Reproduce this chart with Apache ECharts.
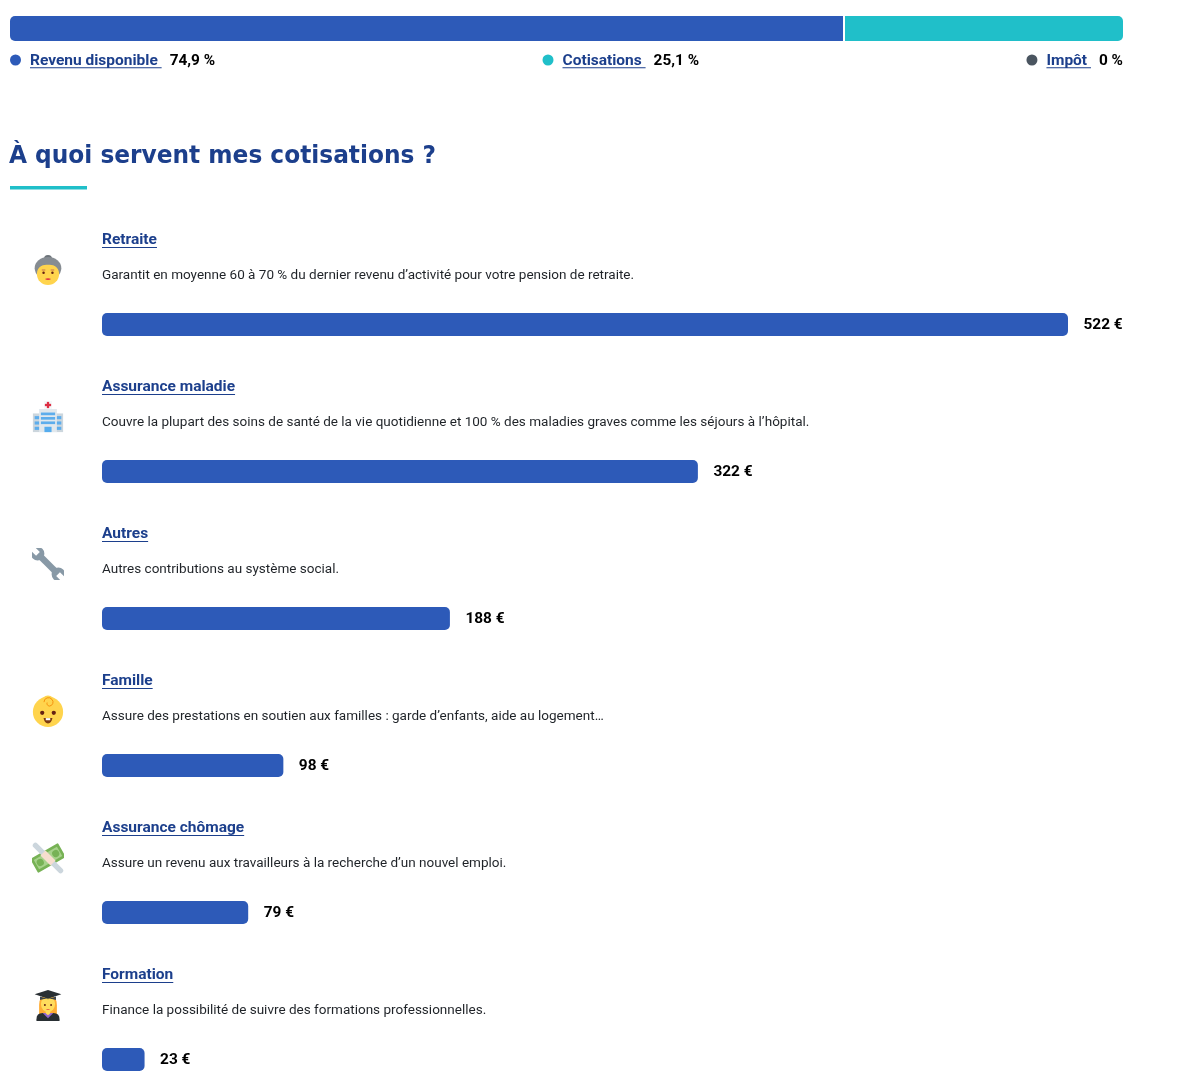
<!DOCTYPE html>
<html lang="fr">
<head>
<meta charset="utf-8">
<style>html,body{margin:0;padding:0;background:#fff}#c{width:1200px;height:1080px}</style>
<script src="https://cdn.jsdelivr.net/npm/echarts@6/dist/echarts.min.js"></script>
</head>
<body>
<div id="c"></div>
<script>
// ---- data ----
const shareNames = ['Revenu disponible', 'Cotisations', 'Impôt'];
const shareValues = [74.9, 25.1, 0];
const shareLabels = ['74,9 %', '25,1 %', '0 %'];
const pageTitle = 'À quoi servent mes cotisations ?';
const categories = ['Retraite', 'Assurance maladie', 'Autres', 'Famille', 'Assurance chômage', 'Formation'];
const amounts = [522, 322, 188, 98, 79, 23];
const descriptions = [
  'Garantit en moyenne 60 à 70 % du dernier revenu d’activité pour votre pension de retraite.',
  'Couvre la plupart des soins de santé de la vie quotidienne et 100 % des maladies graves comme les séjours à l’hôpital.',
  'Autres contributions au système social.',
  'Assure des prestations en soutien aux familles : garde d’enfants, aide au logement…',
  'Assure un revenu aux travailleurs à la recherche d’un nouvel emploi.',
  'Finance la possibilité de suivre des formations professionnelles.'
];

// ---- styles ----
const BLUE = '#2d5ab8', TEAL = '#20bfc9', SLATE = '#4a5560', NAVY = '#1c3f8c', INK = '#1f2328';
const shareColors = [BLUE, TEAL, SLATE];
const FONT_LINK = '700 15.5px Roboto', FONT_VAL = '700 15.4px Roboto', FONT_DESC = '400 13.52px Roboto', FONT_H = '700 25px "DejaVu Sans"';

const svg = s => 'data:image/svg+xml;charset=utf-8,' + encodeURIComponent(
  '<svg xmlns="http://www.w3.org/2000/svg" width="72" height="72" viewBox="0 0 36 36">' + s + '</svg>');
const icons = [
  svg('<circle cx="18" cy="5.5" r="4.5" fill="#6d747a"/><ellipse cx="18" cy="16" rx="15" ry="12.5" fill="#868c92"/>' +
      '<ellipse cx="18" cy="22.5" rx="12.5" ry="12.5" fill="#FFD44D"/><path d="M5 20C7 13 13 12 18 12s11 1 13 8c1-9-5-14-13-14S4 11 5 20z" fill="#868c92"/>' +
      '<circle cx="13" cy="21" r="1.4" fill="#662113"/><circle cx="23" cy="21" r="1.4" fill="#662113"/>' +
      '<path d="M14.5 28q3.5 2.4 7 0q-3.5-1.2-7 0z" fill="#DD2E44"/><rect x="11" y="17.5" width="4" height="1" fill="#c1694f"/><rect x="21" y="17.5" width="4" height="1" fill="#c1694f"/>'),
  svg('<rect x="1" y="14" width="34" height="21" fill="#CCD6DD"/><rect x="8" y="9" width="20" height="26" fill="#E1E8ED"/>' +
      '<rect x="13.5" y="0" width="9" height="9" fill="#F5F8FA"/><rect x="16.7" y="1" width="2.6" height="7" fill="#DD2E44"/><rect x="14.5" y="3.2" width="7" height="2.6" fill="#DD2E44"/>' +
      '<rect x="3" y="17" width="5" height="3.5" fill="#5DADEC"/><rect x="3" y="23" width="5" height="3.5" fill="#5DADEC"/><rect x="3" y="29" width="5" height="3.5" fill="#5DADEC"/>' +
      '<rect x="28" y="17" width="5" height="3.5" fill="#5DADEC"/><rect x="28" y="23" width="5" height="3.5" fill="#5DADEC"/><rect x="28" y="29" width="5" height="3.5" fill="#5DADEC"/>' +
      '<rect x="10" y="13" width="16" height="3" fill="#5DADEC"/><rect x="10" y="18" width="16" height="3" fill="#5DADEC"/><rect x="10" y="23" width="16" height="3" fill="#5DADEC"/>' +
      '<rect x="14" y="29" width="8" height="6" fill="#55ACEE"/>'),
  svg('<g transform="rotate(-45 18 18)"><rect x="14.4" y="4" width="7.2" height="28" fill="#8899A6"/>' +
      '<circle cx="18" cy="1.5" r="7.6" fill="#8899A6"/><circle cx="18" cy="34.5" r="7.6" fill="#8899A6"/>' +
      '<rect x="15" y="-7" width="6" height="9" fill="#fff"/><rect x="15" y="34" width="6" height="9" fill="#fff"/></g>'),
  svg('<circle cx="18" cy="19" r="17" fill="#FFD44D"/><circle cx="18" cy="8" r="7.5" fill="#FFD44D"/>' +
      '<path d="M13.5 8a5 5 0 0 1 9-3 4.5 4.5 0 0 1-3 7.5 3 3 0 0 1-2.5-4" fill="none" stroke="#F4900C" stroke-width="1.1"/>' +
      '<circle cx="11.5" cy="20" r="2.4" fill="#662113"/><circle cx="24.5" cy="20" r="2.4" fill="#662113"/>' +
      '<path d="M13 26h10q-1 6-5 6t-5-6z" fill="#7c3a10"/><rect x="15.5" y="26" width="5" height="2.4" fill="#fff"/>'),
  svg('<g transform="rotate(-30 18 18)"><rect x="0" y="9" width="36" height="18" rx="1" fill="#77B255"/><rect x="3" y="12" width="30" height="12" fill="#A7D28B"/>' +
      '<circle cx="8" cy="18" r="4" fill="#77B255"/><circle cx="28" cy="18" r="4" fill="#77B255"/></g>' +
      '<g transform="rotate(45 18 18)"><rect x="-5" y="15" width="46" height="6" rx="3" fill="#CCD6DD"/><rect x="10" y="14" width="16" height="8" fill="#F7DECE"/></g>'),
  svg('<path d="M8 33V18q0-11 10-11t10 11v15z" fill="#FFAC33"/><ellipse cx="18" cy="17" rx="8" ry="9" fill="#FFDC5D"/>' +
      '<path d="M5 36v-2q0-7 7-7h12q7 0 7 7v2z" fill="#292F33"/><path d="M12 27h12l-6 6z" fill="#9266CC"/>' +
      '<path d="M15.5 22h5v5.5l-2.5 2-2.5-2z" fill="#FFDC5D"/>' +
      '<path d="M18 1 33 6 18 11 3 6z" fill="#292F33"/><path d="M9 8.5v4q9-3 18 0v-4l-9 3z" fill="#3d4449"/>' +
      '<circle cx="14.5" cy="18" r="1.1" fill="#662113"/><circle cx="21.5" cy="18" r="1.1" fill="#662113"/><path d="M15.5 22.5q2.5 1.5 5 0z" fill="#DD2E44"/>')
];

const mctx = document.createElement('canvas').getContext('2d');
const textW = (t, f) => { mctx.font = f; return mctx.measureText(t).width; };

// Top legend: flex "space-between" row from x=10 to x=1123
const L = 10, R = 1123, dotD = 11, dotGap = 9, valGap = 8, legY = 60;
const itemW = shareNames.map((n, i) => dotD + dotGap + textW(n + ' ', FONT_LINK) + valGap + textW(shareLabels[i], FONT_VAL));
const gap = (R - L - itemW.reduce((a, b) => a + b, 0)) / (shareNames.length - 1);
const graphics = [];
let cx = L;
shareNames.forEach((n, i) => {
  const w = textW(n + ' ', FONT_LINK);
  const tx = cx + dotD + dotGap;
  graphics.push(
    { type: 'circle', shape: { cx: cx + dotD / 2, cy: legY, r: dotD / 2 }, style: { fill: shareColors[i] } },
    { type: 'text', x: tx, y: legY + 1, style: { text: n, font: FONT_LINK, fill: NAVY, textVerticalAlign: 'middle' } },
    { type: 'rect', shape: { x: tx, y: legY + 7.3, width: w, height: 1 }, style: { fill: NAVY } },
    { type: 'text', x: tx + w + valGap, y: legY + 1, style: { text: shareLabels[i], font: FONT_VAL, fill: '#000', textVerticalAlign: 'middle' } }
  );
  cx += itemW[i] + gap;
});
graphics.push(
  { type: 'text', x: 9, y: 156.5, scaleX: 427 / textW(pageTitle, FONT_H), style: { text: pageTitle, font: FONT_H, fill: NAVY, textVerticalAlign: 'middle' } },
  { type: 'rect', shape: { x: 10, y: 186, width: 77, height: 3.5 }, style: { fill: TEAL } }
);

const chart = echarts.init(document.getElementById('c'), null, { renderer: 'canvas' });
chart.setOption({
  animation: false,
  tooltip: { show: false },
  graphic: graphics,
  grid: [
    { left: L, top: 16, width: R - L, height: 25, outerBoundsMode: 'none' },
    { left: 102, top: 251, width: 966, height: 882, outerBoundsMode: 'none' }
  ],
  xAxis: [
    { gridIndex: 0, type: 'value', min: 0, max: 100, show: false },
    { gridIndex: 1, type: 'value', min: 0, max: amounts[0], show: false }
  ],
  yAxis: [
    { gridIndex: 0, type: 'category', data: ['Répartition'], show: false },
    { gridIndex: 1, type: 'category', data: categories, inverse: true, show: false }
  ],
  series: [
    ...shareNames.map((n, i) => ({
      name: n, type: 'bar', stack: 'share', xAxisIndex: 0, yAxisIndex: 0, barWidth: 25, silent: true,
      data: [shareValues[i]],
      itemStyle: { color: shareColors[i], borderRadius: i === 0 ? [5, 0, 0, 5] : [0, 5, 5, 0] },
      markLine: i === 1 ? {
        silent: true, symbol: 'none', label: { show: false },
        lineStyle: { color: '#fff', width: 2, type: 'solid' },
        data: [{ xAxis: shareValues[0] }]
      } : undefined
    })),
    {
      type: 'bar', xAxisIndex: 1, yAxisIndex: 1, barWidth: 23, silent: true,
      data: amounts,
      itemStyle: { color: BLUE, borderRadius: 5 },
      label: { show: true, position: 'right', distance: 15.5, offset: [0, 1], formatter: p => p.value + ' €', fontFamily: 'Roboto', fontWeight: 700, fontSize: 15.4, color: '#000' }
    },
    {
      type: 'custom', xAxisIndex: 1, yAxisIndex: 1, silent: true, clip: false,
      data: categories.map((c, i) => [0, i]),
      encode: { x: 0, y: 1 },
      renderItem: (params, api) => {
        const i = api.value(1);
        const p = api.coord([0, i]);
        const x = p[0], y = p[1];
        return {
          type: 'group',
          children: [
            { type: 'image', style: { image: icons[i], x: 32, y: y - 70.5, width: 32, height: 32 } },
            { type: 'text', x: x, y: y - 84, style: { text: categories[i], font: FONT_LINK, fill: NAVY, textVerticalAlign: 'middle' } },
            { type: 'rect', shape: { x: x, y: y - 77.5, width: textW(categories[i], FONT_LINK), height: 1 }, style: { fill: NAVY } },
            { type: 'text', x: x, y: y - 48.5, style: { text: descriptions[i], font: FONT_DESC, fill: INK, textVerticalAlign: 'middle' } }
          ]
        };
      }
    }
  ]
});
</script>
</body>
</html>
